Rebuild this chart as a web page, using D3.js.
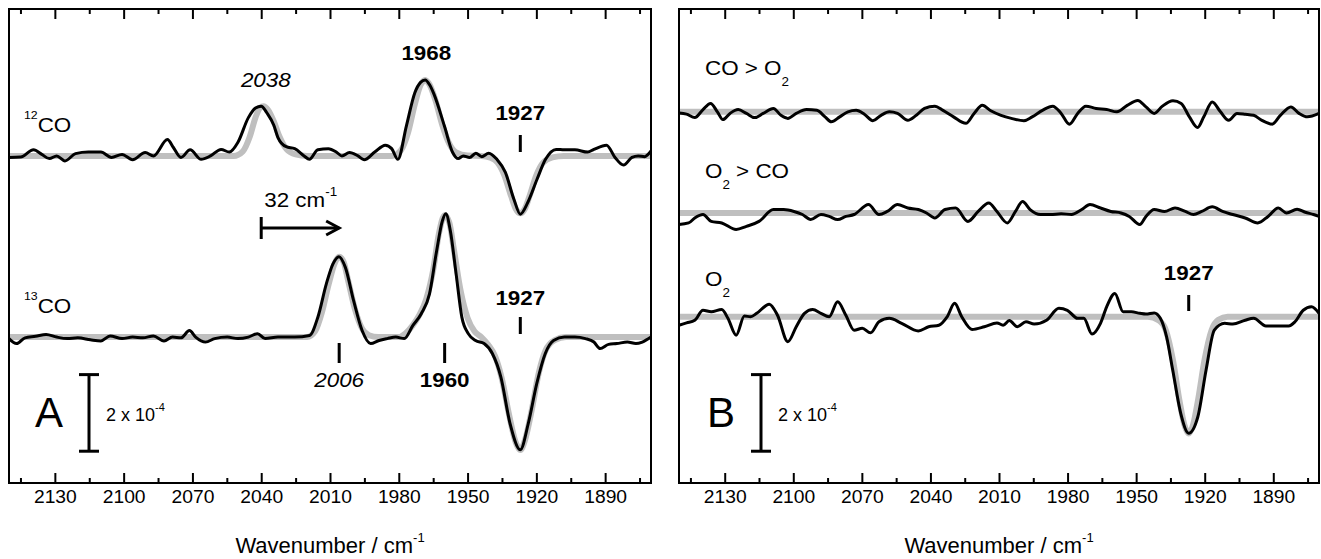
<!DOCTYPE html>
<html><head><meta charset="utf-8">
<script src="https://cdn.jsdelivr.net/npm/d3@7"></script>
<style>
body{margin:0;background:#fff}
text{font-family:"Liberation Sans",Arial,sans-serif;fill:#000}
</style>
</head><body>
<svg id="chart" width="1321" height="559"></svg>
<script>
// ---------- data ----------
const wnDomain = [2150, 1870];
const majorTicks = [2130, 2100, 2070, 2040, 2010, 1980, 1950, 1920, 1890];
const minorTicks = [2145, 2115, 2085, 2055, 2025, 1995, 1965, 1935, 1905, 1875];
const axisTitle = "Wavenumber / cm";

// Panel A, 12CO  [wavenumber, ΔA in 1e-4]
const co12Data = [[2150,-0.04],[2144.9,-0.03],[2139.3,0.16],[2135.7,0.04],[2132.4,-0.07],[2129.2,0],[2125.6,-0.13],[2121,0.06],[2115.4,0.1],[2109.9,0.1],[2105.3,-0.04],[2100.7,0.04],[2096.1,-0.1],[2090.6,0.09],[2087,0],[2080.9,0.43],[2078.3,0.22],[2075,-0.04],[2071,0.16],[2066.2,-0.09],[2062.1,0],[2057.5,0.17],[2053.9,0.1],[2050.2,0.35],[2045.6,1.0],[2042.5,1.25],[2040,1.3],[2037.5,1.12],[2034.5,0.8],[2032.7,0.48],[2029.1,0.24],[2025.4,0.19],[2021.3,0],[2019,-0.09],[2015.3,0.16],[2010.7,0.19],[2007,0.09],[2004.8,0],[2001.5,0.09],[1997.8,0],[1995.1,-0.1],[1990.5,0.1],[1985.9,0.28],[1983.1,0.19],[1980.4,-0.09],[1976.7,0.78],[1973,1.65],[1970.5,1.92],[1968.5,1.98],[1966.5,1.85],[1964.7,1.62],[1960.1,0.78],[1956.5,0.09],[1954.1,-0.07],[1951.9,0],[1949.1,-0.04],[1946.4,0.07],[1943.8,-0.02],[1940.8,0.07],[1937.2,-0.09],[1933.5,-0.43],[1929.8,-1.13],[1927,-1.52],[1923.7,-1.21],[1919.7,-0.61],[1916,-0.09],[1911.4,0.17],[1907.8,0.16],[1903.2,0.16],[1897.6,0.1],[1894.9,0.17],[1889.4,0.28],[1885.7,-0.04],[1882,-0.24],[1878.3,-0.04],[1875.6,0],[1872.8,-0.02],[1870,0.13]];
const co12Fit = [[2150,0],[2052,0],[2048,0.12],[2045,0.5],[2042.5,1.0],[2040.5,1.26],[2039,1.3],[2037,1.2],[2034.5,0.9],[2032,0.5],[2029,0.18],[2025,0.04],[2020,0],[1983,0],[1979,0.15],[1976,0.6],[1973,1.35],[1970.5,1.85],[1968.5,1.98],[1966.5,1.85],[1964,1.45],[1961,0.8],[1958,0.32],[1955,0.09],[1950,0.01],[1944,0],[1940,-0.05],[1937,-0.17],[1934,-0.5],[1931,-1.05],[1929,-1.38],[1927,-1.5],[1925,-1.38],[1923,-1.05],[1920,-0.5],[1917,-0.17],[1913,-0.04],[1908,0],[1870,0]];

// Panel A, 13CO
const co13Data = [[2150,-0.04],[2146.7,-0.17],[2143,-0.02],[2138.4,0.02],[2133.8,0.07],[2129.2,0],[2124.6,-0.04],[2120,-0.02],[2114.5,-0.07],[2109.9,-0.1],[2105.9,0.03],[2100.7,-0.04],[2096.1,0],[2091.6,-0.02],[2087,0.03],[2082.4,-0.1],[2078.7,0],[2075,-0.02],[2071.3,0.17],[2068.6,0],[2064.3,-0.13],[2060.3,-0.04],[2054.8,0],[2050.2,-0.04],[2045.6,0],[2041.6,0.09],[2038.3,-0.04],[2032.7,0],[2025.4,0],[2018.9,0.04],[2015.3,0.52],[2011.6,1.39],[2008.8,1.9],[2006.1,2.1],[2003.3,1.82],[1999.7,0.95],[1996,0.17],[1992.3,-0.17],[1988.6,-0.09],[1985,-0.04],[1981.3,0],[1977.6,-0.04],[1973.9,0.3],[1970.2,0.61],[1966.6,1.13],[1963.5,2.25],[1961,3.03],[1959.5,3.22],[1957.5,2.77],[1955,1.65],[1952.5,0.52],[1949.7,0.09],[1946.5,-0.09],[1942.8,-0.17],[1939.2,-0.43],[1935.5,-1.04],[1931.5,-2.25],[1927,-2.94],[1923.5,-2.25],[1919.8,-1.21],[1916.1,-0.43],[1912.5,-0.09],[1907.8,0],[1903.2,0],[1898.6,-0.04],[1894.9,-0.13],[1892.2,-0.3],[1888.5,-0.19],[1884.9,-0.17],[1880.3,-0.13],[1876.6,-0.17],[1873.8,-0.13],[1870,0]];
const co13Fit = [[2150,0],[2020,0],[2016.5,0.15],[2013.5,0.65],[2010.5,1.4],[2008,1.92],[2006,2.1],[2004,1.95],[2002,1.45],[1999,0.7],[1996,0.22],[1993,0.05],[1989,0],[1980,0],[1977,0.1],[1974,0.3],[1971,0.58],[1968,1.0],[1965,1.75],[1962.5,2.7],[1960,3.18],[1958,3.0],[1956,2.3],[1953,1.2],[1950,0.5],[1947,0.15],[1944,0],[1941,-0.2],[1938,-0.5],[1935,-1.1],[1932,-2.0],[1929,-2.75],[1927,-2.95],[1925,-2.7],[1922,-1.9],[1919,-0.95],[1916,-0.35],[1912,-0.08],[1907,0],[1870,0]];

// Panel B, CO > O2
const coO2Data = [[2150,-0.03],[2146.7,-0.06],[2143.1,-0.15],[2139.5,0.06],[2136.2,0.22],[2133.2,0],[2130.8,-0.2],[2127.7,-0.04],[2124.1,0.06],[2120.5,-0.04],[2116.9,-0.15],[2113.2,-0.04],[2108.7,0.09],[2105.4,-0.09],[2102.4,-0.17],[2098.7,-0.04],[2094.2,0.06],[2089.7,0.04],[2086.1,-0.13],[2083.4,-0.26],[2079.7,-0.13],[2076.1,0],[2072.5,0.04],[2068.9,-0.06],[2065.2,-0.23],[2061.6,-0.09],[2058,0],[2054.4,-0.04],[2049.9,-0.22],[2046.2,-0.09],[2042.6,0.09],[2038.1,0.15],[2034.5,0.04],[2029.9,-0.13],[2024.5,-0.3],[2020.9,-0.04],[2017.3,0.17],[2013.6,0.03],[2009.1,-0.09],[2004.6,-0.17],[1999.1,-0.23],[1995.5,-0.13],[1991,0.04],[1986.5,0.15],[1982.8,-0.04],[1979.2,-0.32],[1975.6,-0.04],[1972,0.15],[1967.5,0.09],[1962.9,0.06],[1958.4,0],[1953.9,0.17],[1949.3,0.3],[1945.7,0.13],[1942.1,-0.04],[1938.5,0.15],[1933.9,0.29],[1930.3,0.22],[1926.7,-0.13],[1923.1,-0.41],[1920.4,-0.13],[1916.7,0.26],[1913.1,0],[1909.5,-0.22],[1905.9,-0.04],[1902.3,-0.06],[1898.6,-0.09],[1895,-0.22],[1890.5,-0.32],[1886.9,-0.09],[1882.3,0.13],[1878.7,-0.04],[1875.1,-0.13],[1870,-0.04]];
const coO2Fit = [[2150,0],[1870,0]];

// Panel B, O2 > CO
const o2CoData = [[2150,-0.3],[2145.8,-0.26],[2143.1,-0.13],[2139.5,-0.04],[2135.9,-0.22],[2131.3,-0.26],[2125,-0.43],[2120.5,-0.35],[2115,-0.22],[2108.7,0.09],[2104.2,0.09],[2099.7,0.04],[2096,-0.04],[2092.4,-0.17],[2087.9,-0.04],[2084.3,-0.09],[2080.6,-0.17],[2077,-0.09],[2073.4,-0.04],[2067.1,0.22],[2062.5,-0.04],[2058.9,0.04],[2054.4,0.22],[2049.9,0.13],[2045.3,0.09],[2041.7,0],[2038.1,-0.13],[2033.6,0.09],[2029,0.13],[2023.6,-0.22],[2019.1,0.04],[2014.5,0.26],[2010.9,0.04],[2006.4,-0.26],[2002.8,0.04],[1999.7,0.3],[1996.4,0.09],[1991.9,-0.04],[1987.4,-0.04],[1982.8,-0.02],[1978.3,-0.04],[1973.8,0.09],[1970.2,0.22],[1965.6,0.13],[1961.1,0.04],[1956.6,0],[1953,-0.09],[1948.4,-0.3],[1945.7,-0.09],[1942.1,0.09],[1937.6,0.04],[1933,0.13],[1928.5,0.04],[1924.9,-0.04],[1921.3,0.04],[1916.7,0.16],[1912.2,0.04],[1907.7,-0.04],[1902.3,-0.13],[1896.8,-0.26],[1892.3,-0.09],[1887.8,0.13],[1884.2,0],[1879.6,0.1],[1876,0.02],[1872.4,-0.04],[1870,-0.09]];
const o2CoFit = [[2150,0],[1870,0]];

// Panel B, O2
const o2Data = [[2150,-0.22],[2146.7,-0.16],[2143.1,-0.09],[2139.5,0.17],[2135.9,0.13],[2131.3,0.19],[2128.6,-0.04],[2125,-0.48],[2121.4,0.02],[2118.7,0],[2116,0.09],[2110.5,0.33],[2106.9,0.04],[2102.4,-0.65],[2098.7,-0.26],[2095.1,0.09],[2091.5,0.19],[2087.9,0.09],[2084.3,0],[2080.6,0.39],[2077,0.04],[2073.4,-0.35],[2069.8,-0.3],[2066.2,-0.42],[2062.5,-0.13],[2058,-0.04],[2052.6,-0.17],[2045.3,-0.37],[2040.8,-0.26],[2036.3,-0.22],[2032.7,0],[2029.4,0.35],[2026.3,0],[2021.8,-0.33],[2016.4,-0.26],[2010.9,-0.16],[2008.2,-0.22],[2005.5,-0.1],[2001.9,-0.26],[1998.2,-0.13],[1994.6,-0.19],[1989.2,-0.09],[1983.8,0.22],[1980.1,0.17],[1975.6,-0.04],[1972.9,-0.04],[1969.3,-0.45],[1965.6,-0.17],[1962.9,0.26],[1959.3,0.61],[1955.7,0.13],[1952.1,0.13],[1948.4,0.09],[1945.7,0.07],[1942.1,0.1],[1939.4,-0.04],[1936.7,-0.52],[1934,-1.39],[1930.5,-2.52],[1927,-3.04],[1923,-2.61],[1919.4,-1.39],[1915.8,-0.35],[1911.3,-0.17],[1907.7,-0.19],[1902.3,-0.09],[1898.6,-0.04],[1893.2,-0.24],[1887.8,-0.24],[1883.3,-0.24],[1880.5,-0.13],[1876.9,0.17],[1873.3,0.26],[1870,0.09]];
const o2Fit = [[2150,0],[1945,0],[1940,-0.1],[1937,-0.35],[1934,-1.1],[1931,-2.2],[1929,-2.8],[1927,-3.05],[1925,-2.8],[1923,-2.2],[1920,-1.1],[1917,-0.35],[1914,-0.08],[1910,0],[1870,0]];

// ---------- layout ----------
const svg = d3.select("#chart");
const TOP = 9, BOTTOM = 483, PX_PER_UNIT = 38.3;
const yMax = (BOTTOM - TOP) / PX_PER_UNIT;
const GRAY = "#bfbfbf";
const SX = 1.12; // horizontal stretch of annotation lettering

// text placed at (x, y), horizontally stretched
function label(g, x, y, opts) {
  const t = g.append("g").attr("transform", `translate(${x},${y}) scale(${opts.sx || SX},1)`)
    .append("text").attr("font-size", opts.size || 20)
    .attr("text-anchor", opts.anchor || "start")
    .attr("font-weight", opts.bold ? "bold" : null)
    .attr("font-style", opts.italic ? "italic" : null);
  return t;
}

function drawPanel(p) {
  const x = d3.scaleLinear().domain(wnDomain).range([p.x0, p.x1]);
  const y = d3.scaleLinear().domain([0, yMax]).range([BOTTOM, TOP]);
  const g = svg.append("g");

  const axB = g.append("g").attr("transform", `translate(0,${BOTTOM})`)
    .call(d3.axisBottom(x).tickValues(majorTicks).tickSize(-10).tickSizeOuter(0).tickPadding(7).tickFormat(d3.format("d")));
  const axBm = g.append("g").attr("transform", `translate(0,${BOTTOM})`)
    .call(d3.axisBottom(x).tickValues(minorTicks).tickSize(-5).tickSizeOuter(0).tickFormat(""));
  const axT = g.append("g").attr("transform", `translate(0,${TOP})`)
    .call(d3.axisTop(x).tickValues(majorTicks).tickSize(-10).tickSizeOuter(0).tickFormat(""));
  const axTm = g.append("g").attr("transform", `translate(0,${TOP})`)
    .call(d3.axisTop(x).tickValues(minorTicks).tickSize(-5).tickSizeOuter(0).tickFormat(""));
  [axB, axBm, axT, axTm].forEach(a => {
    a.select(".domain").remove();
    a.selectAll(".tick line").attr("stroke", "#000").attr("stroke-width", 2);
  });
  axB.selectAll(".tick text").attr("font-size", 18).attr("transform", "scale(1.07,1)")
    .attr("font-family", '"Liberation Sans",Arial,sans-serif').attr("fill", "#000");

  p.traces.forEach(t => {
    const line = d3.line().x(d => x(d[0])).y(d => y(d[1] + t.offset)).curve(d3.curveMonotoneX);
    g.append("path").datum(t.fit).attr("d", line).attr("fill", "none")
      .attr("stroke", GRAY).attr("stroke-width", 6).attr("stroke-linejoin", "round");
  });
  p.traces.forEach(t => {
    const line = d3.line().x(d => x(d[0])).y(d => y(d[1] + t.offset)).curve(d3.curveMonotoneX);
    g.append("path").datum(t.data).attr("d", line).attr("fill", "none")
      .attr("stroke", "#000").attr("stroke-width", 3).attr("stroke-linejoin", "round");
  });

  g.append("rect").attr("x", p.x0).attr("y", TOP).attr("width", p.x1 - p.x0).attr("height", BOTTOM - TOP)
    .attr("fill", "none").attr("stroke", "#000").attr("stroke-width", 2);

  // scale bar (2 x 10^-4)
  const sb = p.scaleBar;
  const y0 = y(sb.from), y1 = y(sb.from + 2);
  g.append("line").attr("x1", sb.x).attr("x2", sb.x).attr("y1", y0).attr("y2", y1).attr("stroke", "#000").attr("stroke-width", 3);
  [y0, y1].forEach(yy => g.append("line").attr("x1", sb.x - 10).attr("x2", sb.x + 10).attr("y1", yy).attr("y2", yy).attr("stroke", "#000").attr("stroke-width", 3));
  const sbt = g.append("text").attr("x", sb.x + 17).attr("y", 421).attr("font-size", 18);
  sbt.append("tspan").text("2 x 10");
  sbt.append("tspan").attr("font-size", 11).attr("dy", -10).text("-4");
  g.append("text").attr("x", p.letterX).attr("y", 427).attr("font-size", 42).text(p.letter);

  const tt = g.append("text").attr("x", (p.x0 + p.x1) / 2).attr("y", 553).attr("font-size", 22).attr("text-anchor", "middle");
  tt.append("tspan").text(axisTitle);
  tt.append("tspan").attr("font-size", 13).attr("dy", -11).text("-1");

  p.peaks.forEach(pk => {
    label(g, x(pk.wn), pk.ty, {anchor: "middle", bold: pk.bold, italic: pk.italic}).text(pk.label);
    if (pk.tick) g.append("line").attr("x1", x(pk.wn)).attr("x2", x(pk.wn)).attr("y1", pk.tick[0]).attr("y2", pk.tick[1])
      .attr("stroke", "#000").attr("stroke-width", 3);
  });
  return {x, y, g};
}

// ---------- panel A ----------
const A = drawPanel({
  x0: 9, x1: 651, letter: "A", letterX: 35,
  scaleBar: {x: 89, from: 0.83},
  traces: [
    {data: co12Data, fit: co12Fit, offset: 8.54},
    {data: co13Data, fit: co13Fit, offset: 3.81}
  ],
  peaks: [
    {wn: 2038, label: "2038", italic: true, ty: 87},
    {wn: 1968, label: "1968", bold: true, ty: 60},
    {wn: 1927, label: "1927", bold: true, ty: 120, tick: [135, 152]},
    {wn: 2006, label: "2006", italic: true, ty: 387, tick: [343, 363]},
    {wn: 1960, label: "1960", bold: true, ty: 387, tick: [343, 363]},
    {wn: 1927, label: "1927", bold: true, ty: 305, tick: [317, 334]}
  ]
});
function isoLabel(g, x, yb, sup, main) {
  const t = label(g, x, yb, {});
  t.append("tspan").attr("font-size", 11).attr("dy", -13).text(sup);
  t.append("tspan").attr("dy", 13).text(main);
}
isoLabel(A.g, 24, 132, "12", "CO");
isoLabel(A.g, 24, 313, "13", "CO");
// shift arrow 2038 -> 2006
{
  const xa = A.x(2040), xb = A.x(2006), ya = 228;
  A.g.append("line").attr("x1", xa).attr("x2", xa).attr("y1", ya - 11).attr("y2", ya + 11).attr("stroke", "#000").attr("stroke-width", 3);
  A.g.append("line").attr("x1", xa).attr("x2", xb).attr("y1", ya).attr("y2", ya).attr("stroke", "#000").attr("stroke-width", 3);
  A.g.append("path").attr("d", `M${xb - 13},${ya - 7}L${xb},${ya}L${xb - 13},${ya + 7}`).attr("fill", "none").attr("stroke", "#000").attr("stroke-width", 3);
  const t = label(A.g, xa + 3, 207, {});
  t.append("tspan").text("32 cm");
  t.append("tspan").attr("font-size", 12).attr("dy", -11).text("-1");
}

// ---------- panel B ----------
const B = drawPanel({
  x0: 679, x1: 1319, letter: "B", letterX: 707,
  scaleBar: {x: 761, from: 0.83},
  traces: [
    {data: coO2Data, fit: coO2Fit, offset: 9.69},
    {data: o2CoData, fit: o2CoFit, offset: 7.05},
    {data: o2Data, fit: o2Fit, offset: 4.34}
  ],
  peaks: [
    {wn: 1927, label: "1927", bold: true, ty: 280, tick: [295, 311]}
  ]
});
function subLabel(g, x, yb, parts) {
  const t = label(g, x, yb, {});
  parts.forEach(pt => {
    const s = t.append("tspan").text(pt[0]);
    if (pt[1] === "sub") s.attr("font-size", 12).attr("dy", 11);
    if (pt[1] === "back") s.attr("dy", -11);
  });
}
subLabel(B.g, 705, 75, [["CO > O"], ["2", "sub"]]);
subLabel(B.g, 705, 178, [["O"], ["2", "sub"], [" > CO", "back"]]);
subLabel(B.g, 705, 286, [["O"], ["2", "sub"]]);
</script>
</body></html>
